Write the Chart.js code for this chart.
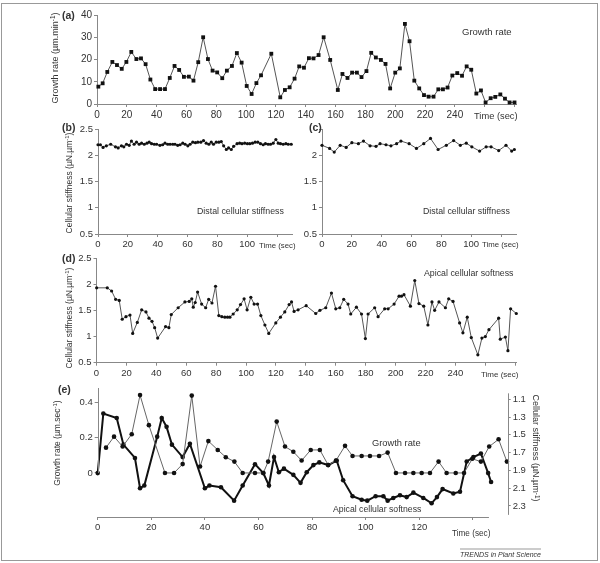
<!DOCTYPE html>
<html>
<head>
<meta charset="utf-8">
<script src="https://cdn.jsdelivr.net/npm/chart.js@4.4.1/dist/chart.umd.min.js"></script>
<style>
  html, body { margin: 0; padding: 0; background: #fff; }
  #fig { position: relative; width: 600px; height: 563px; overflow: hidden;
         font-family: "Liberation Sans", Arial, sans-serif; color: #333; }
  #frame { position: absolute; left: 1px; top: 3px; width: 597px; height: 558px;
           border: 1px solid #999; box-sizing: border-box; }
  canvas { position: absolute; }
  .t { position: absolute; white-space: nowrap; line-height: 1; }
  .t sup { font-size: 70%; vertical-align: 0.45em; line-height: 0; }
</style>
</head>
<body>
<div id="fig"><div id="frame"></div></div>
<script>
// (a) growth rate, um/min
const aTime = [0.9, 3.8, 6.9, 10.3, 13.4, 16.6, 19.7, 23.0, 26.4, 29.5, 32.6, 35.8, 39.0, 42.3, 45.6, 48.8, 52.0, 55.1, 58.3, 61.6,
  64.7, 67.9, 71.2, 74.4, 77.5, 80.6, 84.0, 87.1, 90.5, 93.8, 97.0, 100.4, 103.7, 106.9, 110.0, 116.9, 122.9, 126.0, 129.2, 132.5,
  135.6, 138.8, 142.1, 145.2, 148.6, 152.0, 156.4, 161.5, 164.6, 168.0, 171.1, 174.3, 177.4, 180.7, 183.9, 187.0, 190.4, 193.5, 196.6, 200.0,
  203.1, 206.5, 209.6, 212.8, 216.1, 219.3, 222.4, 225.7, 228.9, 232.0, 235.1, 238.3, 241.6, 244.8, 247.9, 251.0, 254.4, 257.5, 260.6, 264.0,
  267.1, 270.5, 273.6, 276.7, 280.0];
const aRate = [7.8, 9.3, 14.4, 18.9, 17.5, 15.8, 18.9, 23.4, 20.2, 20.5, 17.9, 11.0, 6.7, 6.7, 6.7, 11.7, 17.1, 15.3, 12.2, 12.3,
  10.5, 18.8, 30.0, 20.2, 15.0, 14.2, 11.6, 15.0, 17.1, 22.9, 18.6, 8.1, 4.5, 9.4, 12.9, 22.6, 3.0, 6.3, 7.5, 11.4,
  16.9, 16.3, 20.6, 20.5, 22.0, 30.0, 19.8, 6.3, 13.5, 11.7, 14.1, 14.1, 12.1, 14.8, 23.0, 20.9, 19.8, 18.0, 7.0, 14.1,
  16.0, 36.0, 28.2, 10.5, 7.0, 4.0, 3.3, 3.3, 6.6, 6.6, 7.4, 12.8, 13.9, 12.7, 16.9, 15.4, 4.7, 6.1, 0.7, 2.6,
  3.2, 4.3, 2.4, 0.7, 0.7];

// (b) distal stiffness
const bTime = [0, 1.6, 3.4, 5.6, 8.5, 11.7, 13.5, 15.7, 17.3, 19.1, 20.9, 22.4, 24.2, 25.8, 27.6, 29.2, 31.0, 32.8, 34.3, 35.9,
  37.7, 39.3, 41.5, 43.3, 44.9, 46.7, 48.3, 50.1, 51.6, 53.4, 55.0, 56.8, 58.4, 60.2, 61.7, 63.5, 65.3, 66.9, 68.9, 70.7,
  72.5, 74.3, 75.9, 77.4, 79.2, 81.0, 82.6, 84.2, 86.0, 87.5, 89.3, 90.9, 93.2, 94.9, 96.5, 98.3, 100.1, 101.7, 103.5, 105.3,
  107.1, 108.9, 110.7, 112.2, 114.0, 115.6, 117.4, 119.2, 120.8, 122.3, 124.1, 125.9, 127.5, 129.5];
const bStiff = [2.20, 2.20, 2.15, 2.18, 2.21, 2.16, 2.14, 2.18, 2.16, 2.21, 2.19, 2.27, 2.21, 2.25, 2.21, 2.23, 2.21, 2.23, 2.25, 2.22,
  2.21, 2.21, 2.19, 2.20, 2.23, 2.21, 2.21, 2.21, 2.21, 2.19, 2.20, 2.23, 2.21, 2.18, 2.21, 2.25, 2.24, 2.25, 2.25, 2.28,
  2.23, 2.21, 2.25, 2.21, 2.25, 2.25, 2.26, 2.18, 2.11, 2.14, 2.11, 2.17, 2.22, 2.23, 2.22, 2.23, 2.22, 2.22, 2.23, 2.25,
  2.25, 2.22, 2.20, 2.22, 2.21, 2.21, 2.23, 2.30, 2.23, 2.22, 2.21, 2.22, 2.21, 2.21];

// (c) distal stiffness, second cell
const cTime = [0, 5.1, 8.2, 12.2, 16.2, 20.0, 24.4, 27.8, 32.2, 36.2, 38.9, 42.9, 46.2, 50.0, 52.9, 58.4, 63.3, 68.2, 72.7, 77.8,
  83.3, 88.2, 92.7, 96.7, 100.4, 105.6, 110.0, 113.3, 118.4, 123.3, 127.1, 128.9];
const cStiff = [2.19, 2.13, 2.06, 2.19, 2.15, 2.24, 2.22, 2.27, 2.18, 2.17, 2.22, 2.20, 2.18, 2.22, 2.27, 2.22, 2.13, 2.22, 2.32, 2.11,
  2.19, 2.28, 2.19, 2.23, 2.16, 2.08, 2.16, 2.16, 2.09, 2.19, 2.08, 2.11];

// (d) apical softness
const dTime = [0.1, 7.2, 10.1, 12.8, 15.2, 17.2, 19.7, 22.4, 24.2, 27.3, 30.2, 33.1, 35.1, 37.1, 38.9, 40.9, 46.2, 48.4, 50.0, 54.6,
  59.1, 62.0, 63.7, 64.7, 66.0, 67.6, 70.3, 73.0, 75.0, 77.2, 79.6, 81.8, 83.8, 85.8, 87.6, 89.2, 91.4, 94.1, 96.3, 98.7,
  100.7, 103.2, 105.4, 107.7, 109.9, 112.6, 115.2, 119.9, 123.0, 125.9, 128.8, 130.4, 132.1, 134.8, 140.2, 146.6, 149.4, 153.3, 157.1, 160.0,
  162.7, 165.3, 168.2, 170.0, 173.8, 177.2, 179.8, 181.6, 186.0, 188.3, 192.7, 195.0, 199.0, 202.3, 203.9, 205.6, 209.9, 212.8, 215.6, 218.8,
  221.6, 224.3, 226.1, 229.0, 233.3, 235.5, 238.4, 242.8, 245.0, 247.9, 250.6, 255.0, 257.7, 260.0, 262.4, 268.9, 270.0, 273.4, 275.1, 276.9,
  280.7];
const dSoft = [1.93, 1.93, 1.87, 1.71, 1.69, 1.33, 1.38, 1.41, 1.06, 1.27, 1.51, 1.47, 1.35, 1.29, 1.17, 0.97, 1.19, 1.17, 1.42, 1.55,
  1.66, 1.67, 1.72, 1.56, 1.65, 1.85, 1.62, 1.55, 1.71, 1.64, 1.96, 1.40, 1.38, 1.37, 1.37, 1.37, 1.43, 1.51, 1.61, 1.72,
  1.51, 1.75, 1.62, 1.62, 1.40, 1.22, 1.06, 1.26, 1.37, 1.47, 1.61, 1.66, 1.48, 1.51, 1.59, 1.44, 1.50, 1.55, 1.83, 1.53,
  1.55, 1.71, 1.62, 1.43, 1.56, 1.43, 0.96, 1.43, 1.55, 1.38, 1.53, 1.53, 1.62, 1.77, 1.77, 1.80, 1.58, 2.07, 1.63, 1.58,
  1.22, 1.66, 1.50, 1.66, 1.55, 1.72, 1.67, 1.26, 1.07, 1.37, 0.98, 0.65, 0.97, 1.00, 1.13, 1.35, 0.95, 0.99, 0.73, 1.53,
  1.44];

// (e) growth rate (um/sec, left axis) and apical softness (right axis, inverted)
const eRateTime = [3.1, 6.1, 9.3, 12.7, 15.8, 19.1, 25.1, 28.5, 31.7, 35.1, 38.2, 41.3, 44.8, 47.8, 51.0, 54.1, 58.7, 61.8, 63.6, 66.8,
  69.9, 73.0, 76.1, 79.5, 82.9, 86.0, 88.9, 92.3, 95.1, 98.5, 101.6, 105.0, 108.2, 111.3, 114.7, 117.8, 120.9, 124.0, 127.2, 130.2,
  133.6, 136.7, 139.8, 143.0, 146.1, 149.6, 152.7];
const eRate = [0.143, 0.205, 0.149, 0.219, 0.44, 0.27, 0, 0, 0.05, 0.437, 0.036, 0.18, 0.13, 0.089, 0.064, 0, 0, 0, 0.064, 0.29,
  0.149, 0.12, 0.07, 0.13, 0.13, 0.045, 0.07, 0.153, 0.096, 0.096, 0.096, 0.096, 0.115, 0, 0, 0, 0, 0, 0.064, 0,
  0, 0, 0.08, 0.064, 0.149, 0.19, 0.064];
const eSoftTime = [0, 2.1, 7.1, 9.6, 13.9, 15.8, 17.4, 22.2, 23.9, 25.7, 27.7, 31.7, 34.4, 40.0, 41.7, 46.0, 50.9, 54.1, 58.7, 61.8,
  63.9, 65.8, 67.6, 69.5, 73.0, 75.7, 78.0, 80.5, 82.7, 86.0, 89.2, 91.6, 95.1, 98.5, 100.6, 103.7, 106.6, 108.2, 110.3, 112.8,
  115.3, 117.8, 121.5, 124.6, 126.6, 128.7, 132.7, 135.2, 137.7, 140.2, 143.0, 145.7, 146.8];
const eSoft = [1.93, 1.26, 1.31, 1.61, 1.76, 2.10, 2.07, 1.52, 1.31, 1.41, 1.61, 1.75, 1.60, 2.10, 2.07, 2.09, 2.24, 2.07, 1.83, 1.93,
  2.07, 1.75, 1.92, 1.88, 1.95, 2.04, 1.92, 1.84, 1.81, 1.84, 1.79, 2.01, 2.19, 2.23, 2.24, 2.19, 2.19, 2.24, 2.21, 2.18,
  2.20, 2.15, 2.21, 2.27, 2.20, 2.11, 2.16, 2.14, 1.80, 1.75, 1.71, 1.93, 2.03];

// tick lists
const timeTicksLong = [0, 20, 40, 60, 80, 100, 120, 140, 160, 180, 200, 220, 240, 260, 280];
const timeLabelsLong = [0, 20, 40, 60, 80, 100, 120, 140, 160, 180, 200, 220, 240];
const timeTicksShort = [0, 20, 40, 60, 80, 100, 120];
const timeLabelsShort = [0, 20, 40, 60, 80, 100];
const timeTicksE = [0, 20, 40, 60, 80, 100, 120, 140];
const timeLabelsE = [0, 20, 40, 60, 80, 100, 120];
const rateTicksA = [0, 10, 20, 30, 40];
const stiffTicks = [0.5, 1, 1.5, 2, 2.5];
const stiffLabelsC = [0.5, 1, 1.5, 2];
const rateTicksE = [0, 0.2, 0.4];
const softTicksE = [1.1, 1.3, 1.5, 1.7, 1.9, 2.1, 2.3];

const AXIS_COLOR = "#888";
const TEXT_COLOR = "#333";
Chart.defaults.font.family = '"Liberation Sans", Arial, sans-serif';
Chart.defaults.color = TEXT_COLOR;

const fig = document.getElementById("fig");

function pairs(xs, ys) {
  return xs.map((x, i) => ({ x: x, y: ys[i] }));
}

function axis(o) {
  return {
    type: "linear",
    position: o.pos,
    min: o.min,
    max: o.max,
    reverse: !!o.reverse,
    border: { display: o.border !== false, color: AXIS_COLOR, width: 1 },
    grid: { drawOnChartArea: false, drawTicks: true, tickLength: 3, tickColor: AXIS_COLOR, tickWidth: 1 },
    afterBuildTicks: (s) => { s.ticks = o.ticks.map((v) => ({ value: v })); },
    ticks: {
      autoSkip: false,
      maxRotation: 0,
      padding: 2,
      color: TEXT_COLOR,
      font: { size: o.font || 10 },
      callback: (v) => (o.labels.includes(v) ? String(v) : ""),
    },
    afterFit: (s) => {
      if (o.pos === "bottom") s.height = o.size;
      else s.width = o.size;
    },
  };
}

function series(data, opts) {
  return Object.assign({
    data: data,
    borderColor: "#555",
    borderWidth: 1,
    pointBackgroundColor: "#111",
    pointBorderColor: "#111",
    pointBorderWidth: 0,
    pointRadius: 1.6,
    pointStyle: "circle",
    tension: 0,
    clip: false,
  }, opts || {});
}

function panel(box, datasets, scales, pad, plugins) {
  const c = document.createElement("canvas");
  c.width = box.w;
  c.height = box.h;
  c.style.left = box.x + "px";
  c.style.top = box.y + "px";
  fig.appendChild(c);
  return new Chart(c, {
    type: "line",
    data: { datasets: datasets },
    options: {
      responsive: false,
      animation: false,
      events: [],
      layout: { autoPadding: false, padding: pad },
      plugins: { legend: { display: false }, tooltip: { enabled: false } },
      scales: scales,
    },
    plugins: plugins || [],
  });
}

function text(html, x, y, size, opts) {
  opts = opts || {};
  const d = document.createElement("div");
  d.className = "t";
  d.innerHTML = html;
  d.style.fontSize = size + "px";
  d.style.left = x + "px";
  d.style.top = y + "px";
  if (opts.bold) d.style.fontWeight = "bold";
  if (opts.italic) d.style.fontStyle = "italic";
  if (opts.rot) {
    d.style.transform = "translate(-50%, -50%) rotate(" + opts.rot + "deg)";
  } else {
    d.style.transform = "translate(0, -50%)";
  }
  fig.appendChild(d);
  return d;
}

// (a)
panel({ x: 50, y: 5, w: 480, h: 120 },
  [series(pairs(aTime, aRate), { pointStyle: "rect", pointRadius: 2.7, borderColor: "#555" })],
  {
    x: axis({ pos: "bottom", min: 0, max: 281, ticks: timeTicksLong, labels: timeLabelsLong, size: 21 }),
    y: axis({ pos: "left", min: 0, max: 40, ticks: rateTicksA, labels: rateTicksA, size: 47 }),
  },
  { top: 10, right: 14, left: 0, bottom: 0 });

// (b)
panel({ x: 50, y: 120, w: 250, h: 130 },
  [series(pairs(bTime, bStiff))],
  {
    x: axis({ pos: "bottom", min: 0, max: 130, ticks: timeTicksShort, labels: timeLabelsShort, size: 16, font: 9.5 }),
    y: axis({ pos: "left", min: 0.5, max: 2.5, ticks: stiffTicks, labels: stiffTicks, size: 48, font: 9.5 }),
  },
  { top: 9, right: 8, left: 0, bottom: 0 });

// (c)
panel({ x: 300, y: 120, w: 230, h: 130 },
  [series(pairs(cTime, cStiff))],
  {
    x: axis({ pos: "bottom", min: 0, max: 130, ticks: timeTicksShort, labels: timeLabelsShort, size: 16, font: 9.5 }),
    y: axis({ pos: "left", min: 0.5, max: 2.5, ticks: stiffTicks, labels: stiffLabelsC, size: 22, font: 9.5 }),
  },
  { top: 9, right: 14, left: 0, bottom: 0 });

// (d)
panel({ x: 50, y: 248, w: 480, h: 135 },
  [series(pairs(dTime, dSoft))],
  {
    x: axis({ pos: "bottom", min: 0, max: 280.5, ticks: timeTicksLong, labels: timeLabelsLong, size: 20.3, font: 9.5 }),
    y: axis({ pos: "left", min: 0.5, max: 2.5, ticks: stiffTicks, labels: stiffTicks, size: 46.5, font: 9.5 }),
  },
  { top: 10, right: 14, left: 0, bottom: 0 });

// (e) axis lines only cover part of each scale, so they are drawn here
const partialAxes = {
  id: "partialAxes",
  afterDraw(chart) {
    const { ctx, scales } = chart;
    const x = scales.x, yL = scales.yL, yR = scales.yR;
    ctx.save();
    ctx.strokeStyle = AXIS_COLOR;
    ctx.lineWidth = 1;
    ctx.beginPath();
    const lx = Math.round(yL.right) + 0.5;
    ctx.moveTo(lx, yL.getPixelForValue(0.48));
    ctx.lineTo(lx, yL.getPixelForValue(0));
    const rx = Math.round(yR.left) + 0.5;
    ctx.moveTo(rx, yR.getPixelForValue(1.033));
    ctx.lineTo(rx, yR.getPixelForValue(2.4));
    const by = Math.round(x.top) + 0.5;
    ctx.moveTo(x.getPixelForValue(0), by);
    ctx.lineTo(x.getPixelForValue(146), by);
    ctx.stroke();
    ctx.restore();
  },
};

panel({ x: 50, y: 380, w: 480, h: 165 },
  [
    series(pairs(eRateTime, eRate), { yAxisID: "yL", borderColor: "#666", borderWidth: 1, pointRadius: 2.3 }),
    series(pairs(eSoftTime, eSoft), { yAxisID: "yR", borderColor: "#111", borderWidth: 2, pointRadius: 2.3 }),
  ],
  {
    x: axis({ pos: "bottom", min: 0, max: 153, ticks: timeTicksE, labels: timeLabelsE, size: 28, font: 9.5, border: false }),
    yL: axis({ pos: "left", min: -0.249, max: 0.48, ticks: rateTicksE, labels: rateTicksE, size: 47.7, font: 9.5, border: false }),
    yR: axis({ pos: "right", min: 0.973, max: 2.424, reverse: true, ticks: softTicksE, labels: softTicksE, size: 22.3, font: 9.5, border: false }),
  },
  { top: 8, right: 0, left: 0, bottom: 0 },
  [partialAxes]);

// panel letters
text("(a)", 62, 15, 10.5, { bold: true });
text("(b)", 62, 127, 10.5, { bold: true });
text("(c)", 309, 127, 10.5, { bold: true });
text("(d)", 62, 258, 10.5, { bold: true });
text("(e)", 58, 389, 10.5, { bold: true });

// axis titles
text("Growth rate (µm.min<sup>-1</sup>)", 55, 58, 9, { rot: -90 });
text("Cellular stiffness (µN.µm<sup>-1</sup>)", 68.5, 183, 8.5, { rot: -90 });
text("Cellular stiffness (µN.µm<sup>-1</sup>)", 68.5, 318, 8.5, { rot: -90 });
text("Growth rate (µm.sec<sup>-1</sup>)", 57, 443, 8.5, { rot: -90 });
text("Cellular stiffness (µN.µm<sup>-1</sup>)", 535, 448, 9, { rot: 90 });

// in-plot labels
text("Growth rate", 462, 32, 9.5);
text("Time (sec)", 474, 117, 9.3);
text("Distal cellular stiffness", 197, 211, 8.8);
text("Time (sec)", 259, 246, 7.8);
text("Distal cellular stiffness", 423, 211, 8.8);
text("Time (sec)", 482, 245, 7.8);
text("Apical cellular softness", 424, 273, 8.8);
text("Time (sec)", 481, 375, 8);
text("Growth rate", 372, 444, 9.3);
text("Apical cellular softness", 333, 509, 8.7);
text("Time (sec)", 452, 534, 8.2);

const credit = text("TRENDS in Plant Science", 460, 553, 7, { italic: true });
credit.style.borderTop = "1px solid #999";
credit.style.paddingTop = "1px";
</script>
</body>
</html>
